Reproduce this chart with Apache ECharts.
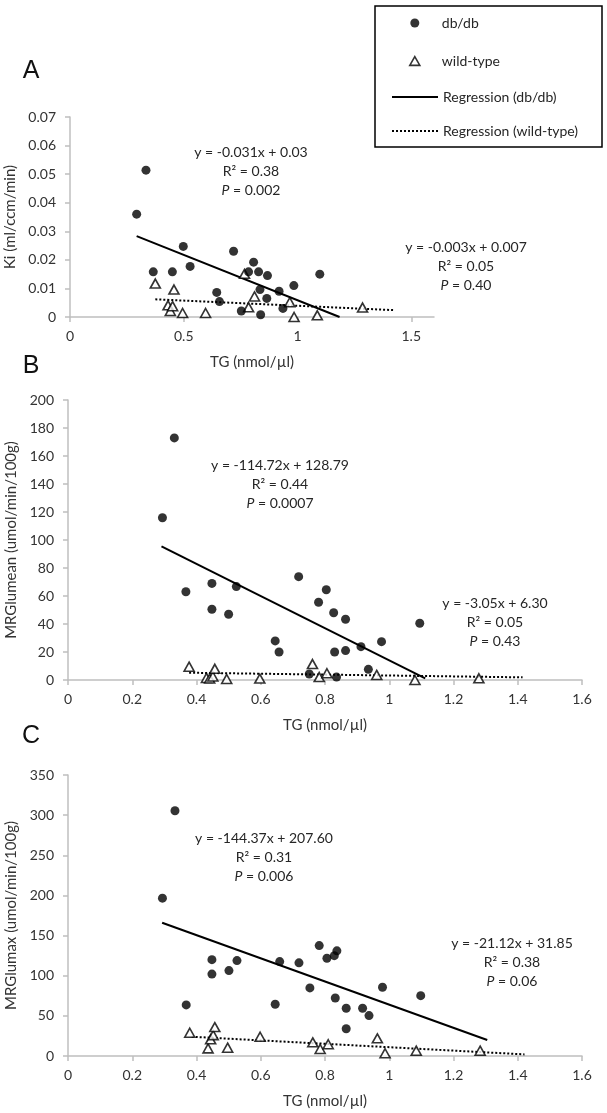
<!DOCTYPE html>
<html>
<head>
<meta charset="utf-8">
<script src="https://cdn.jsdelivr.net/npm/echarts@6/dist/echarts.min.js"></script>
<style>
html,body{margin:0;padding:0;background:#fff;}
#chart{width:607px;height:1113px;}
</style>
</head>
<body>
<div id="chart"></div>
<script>
// ---------- DATA ----------
// Panel A: Ki (ml/ccm/min)
var A_db_x = [0.293,0.334,0.366,0.45,0.498,0.528,0.645,0.657,0.719,0.753,0.785,0.807,0.829,0.835,0.838,0.865,0.868,0.919,0.936,0.984,1.098];
var A_db_y = [0.036,0.0514,0.0158,0.0158,0.0247,0.0177,0.0086,0.0054,0.023,0.0021,0.0158,0.0192,0.0158,0.0096,0.0008,0.0065,0.0145,0.009,0.003,0.011,0.015];
var A_wt_x = [0.375,0.431,0.441,0.451,0.457,0.495,0.596,0.767,0.785,0.811,0.966,0.985,1.087,1.286];
var A_wt_y = [0.0117,0.0041,0.0021,0.0038,0.0096,0.0014,0.0014,0.0151,0.0034,0.0072,0.0052,0.0,0.0006,0.0033];
var A_db_fit = [[0.293,0.0283],[1.185,0]];
var A_wt_fit = [[0.375,0.0062],[1.422,0.0024]];

// Panel B: MRGlumean
var B_db_x = [0.294,0.331,0.367,0.448,0.448,0.50,0.524,0.645,0.657,0.718,0.751,0.780,0.804,0.827,0.830,0.836,0.864,0.864,0.912,0.935,0.976,1.095];
var B_db_y = [115.9,172.9,63,69,50.5,47,66.7,27.9,20,73.8,4.3,55.5,64.5,48,20,2.1,43.4,21,23.8,7.6,27.4,40.5];
var B_wt_x = [0.377,0.431,0.441,0.451,0.457,0.494,0.597,0.761,0.782,0.806,0.961,1.080,1.279];
var B_wt_y = [9.5,1.5,1.0,2.5,8.0,0.7,1.0,11.4,2.1,4.8,3.6,0,1.2];
var B_db_fit = [[0.291,95.4],[1.112,1.2]];
var B_wt_fit = [[0.377,5.2],[1.415,1.9]];

// Panel C: MRGlumax
var C_db_x = [0.294,0.333,0.368,0.448,0.448,0.501,0.526,0.645,0.659,0.719,0.753,0.782,0.806,0.829,0.837,0.832,0.866,0.866,0.917,0.937,0.979,1.098];
var C_db_y = [196.6,305.5,63.6,120,102,106.4,118.8,64.4,117.6,116,84.8,137.5,121.8,125,131,72.3,59.5,34,59.5,50.3,85.7,75.2];
var C_wt_x = [0.379,0.436,0.444,0.452,0.457,0.497,0.598,0.762,0.785,0.81,0.963,0.987,1.084,1.283];
var C_wt_y = [29,9.5,20.8,26,36,10.4,24,17,8.7,14.6,22,3.4,6.6,6.6];
var C_db_fit = [[0.293,166],[1.305,20]];
var C_wt_fit = [[0.385,24],[1.421,2]];

// Tick labels / axes
var A_xticks = [0,0.5,1,1.5];
var A_yticks = [0,0.01,0.02,0.03,0.04,0.05,0.06,0.07];
var BC_xticks = [0,0.2,0.4,0.6,0.8,1,1.2,1.4,1.6];

var xName = 'TG (nmol/µl)';
var yNames = ['Ki (ml/ccm/min)','MRGlumean (umol/min/100g)','MRGlumax (umol/min/100g)'];
var panelLetters = ['A','B','C'];
var seriesNames = ['db/db','wild-type','Regression (db/db)','Regression (wild-type)'];

// Annotations (equation, R², P)
var annDb = [
  ['y = -0.031x + 0.03','R² = 0.38','0.002'],
  ['y = -114.72x + 128.79','R² = 0.44','0.0007'],
  ['y = -144.37x + 207.60','R² = 0.31','0.006']
];
var annWt = [
  ['y = -0.003x + 0.007','R² = 0.05','0.40'],
  ['y = -3.05x + 6.30','R² = 0.05','0.43'],
  ['y = -21.12x + 31.85','R² = 0.38','0.06']
];

// ---------- BUILD ----------
function zip(xs, ys){ return xs.map(function(x,i){ return [x, ys[i]]; }); }

var FONT = 'Lato, "Open Sans", sans-serif';
var AXIS_COLOR = '#bfbfbf';
var LABEL_COLOR = '#333333';

var grids = [
  {left:70, top:117, width:364, height:200},
  {left:68, top:400, width:514, height:280},
  {left:68, top:775, width:514, height:281}
];

var yCfg = [
  {min:0, max:0.07, interval:0.01},
  {min:0, max:200, interval:20},
  {min:0, max:350, interval:50}
];

var xAxes = [], yAxes = [], series = [];
for (var g=0; g<3; g++){
  var xa = {
    type:'value', gridIndex:g, min:0, max:1.6,
    name:xName, nameLocation:'middle', nameGap:38,
    nameTextStyle:{fontFamily:FONT, fontSize:15, color:LABEL_COLOR},
    splitLine:{show:false},
    axisLine:{show:true, onZero:false, lineStyle:{color:AXIS_COLOR, width:1.5}},
    axisTick:{show:true, inside:false, length:5, lineStyle:{color:AXIS_COLOR, width:1.5}},
    axisLabel:{fontFamily:FONT, fontSize:14, color:LABEL_COLOR, margin:12,
      formatter:function(v){ return String(+v.toFixed(2)); }}
  };
  if (g===0){
    xa.axisLabel.customValues = A_xticks;
    xa.axisTick.customValues = A_xticks;
  } else {
    xa.interval = 0.2;
  }
  xAxes.push(xa);
  yAxes.push({
    type:'value', gridIndex:g, min:yCfg[g].min, max:yCfg[g].max, interval:yCfg[g].interval,
    name:yNames[g], nameLocation:'middle', nameGap:(g===0?41:44), nameRotate:90,
    nameTextStyle:{fontFamily:FONT, fontSize:15, color:LABEL_COLOR},
    splitLine:{show:false},
    axisLine:{show:true, lineStyle:{color:AXIS_COLOR, width:1.5}},
    axisTick:{show:true, inside:false, length:5, lineStyle:{color:AXIS_COLOR, width:1.5}},
    axisLabel:{fontFamily:FONT, fontSize:14, color:LABEL_COLOR, margin:14,
      formatter:function(v){ return String(+v.toFixed(3)); }}
  });
}

var panels = [
  [A_db_x,A_db_y,A_wt_x,A_wt_y,A_db_fit,A_wt_fit],
  [B_db_x,B_db_y,B_wt_x,B_wt_y,B_db_fit,B_wt_fit],
  [C_db_x,C_db_y,C_wt_x,C_wt_y,C_db_fit,C_wt_fit]
];

panels.forEach(function(p, g){
  series.push({
    name:seriesNames[2], type:'line', xAxisIndex:g, yAxisIndex:g,
    data:p[4], symbol:'none', silent:true, z:2,
    itemStyle:{color:'#000'},
    lineStyle:{color:'#000', width:2}
  });
  series.push({
    name:seriesNames[3], type:'line', xAxisIndex:g, yAxisIndex:g,
    data:p[5], symbol:'none', silent:true, z:2,
    itemStyle:{color:'#000'},
    lineStyle:{color:'#000', width:2, type:[2,2]}
  });
  series.push({
    name:seriesNames[1], type:'scatter', xAxisIndex:g, yAxisIndex:g,
    data:zip(p[2],p[3]), symbol:'triangle', symbolSize:[10,9], z:3,
    itemStyle:{color:'#fff', borderColor:'#000', borderWidth:1.6}
  });
  series.push({
    name:seriesNames[0], type:'scatter', xAxisIndex:g, yAxisIndex:g,
    data:zip(p[0],p[1]), symbol:'circle', symbolSize:9, z:4,
    itemStyle:{color:'#000'}
  });
});

// annotation graphics
var annPosDb = [[251,152],[280,465],[264,838]];
var annPosWt = [[466,247],[495,603],[512,943]];
var gap = 19;
var graphics = [];
function addAnn(lines, pos){
  var base = {align:'center', verticalAlign:'middle', fontFamily:FONT, fontSize:14, fill:'#262626'};
  graphics.push({type:'text', x:pos[0], y:pos[1], silent:true, style:Object.assign({text:lines[0]}, base)});
  graphics.push({type:'text', x:pos[0], y:pos[1]+gap, silent:true, style:Object.assign({text:lines[1]}, base)});
  graphics.push({type:'text', x:pos[0], y:pos[1]+2*gap, silent:true, style:Object.assign({text:'{i|P} = '+lines[2],
    rich:{i:{fontStyle:'italic', fontFamily:FONT, fontSize:14, fill:'#262626'}}}, base)});
}
for (var k=0;k<3;k++){ addAnn(annDb[k], annPosDb[k]); addAnn(annWt[k], annPosWt[k]); }

// panel letters
var letterPos = [[31,71],[31,366],[31,736]];
panelLetters.forEach(function(L,i){
  graphics.push({type:'text', x:letterPos[i][0], y:letterPos[i][1], silent:true,
    style:{text:L, align:'center', verticalAlign:'middle', fontFamily:'"Liberation Sans", Arial, sans-serif', fontSize:25, fill:'#111'}});
});
// legend frame
graphics.push({type:'rect', silent:true, shape:{x:375, y:6, width:227, height:141},
  style:{fill:null, stroke:'#000', lineWidth:1.5}, z:0});

var option = {
  animation:false,
  backgroundColor:'#fff',
  grid:grids.map(function(gr){ return Object.assign({outerBoundsMode:'none', containLabel:false}, gr); }),
  xAxis:xAxes,
  yAxis:yAxes,
  legend:[
    {orient:'vertical', left:409, top:16, itemWidth:10, itemHeight:9, itemGap:24, padding:0,
     data:[{name:seriesNames[0], icon:'circle'},
           {name:seriesNames[1], icon:'path://M5,0L10,8.66L0,8.66Z',
            itemStyle:{color:'#fff', borderColor:'#000', borderWidth:1.6}}],
     selectedMode:false,
     textStyle:{fontFamily:FONT, fontSize:14, color:'#262626', padding:[0,0,0,17]}},
    {orient:'vertical', left:391, top:90, itemWidth:46, itemHeight:14, itemGap:20, padding:0,
     data:[seriesNames[2], seriesNames[3]], selectedMode:false,
     itemStyle:{opacity:0},
     textStyle:{fontFamily:FONT, fontSize:14, color:'#262626'}}
  ],
  graphic:graphics,
  series:series
};

var chart = echarts.init(document.getElementById('chart'), null, {renderer:'canvas'});
chart.setOption(option);
</script>
</body>
</html>
